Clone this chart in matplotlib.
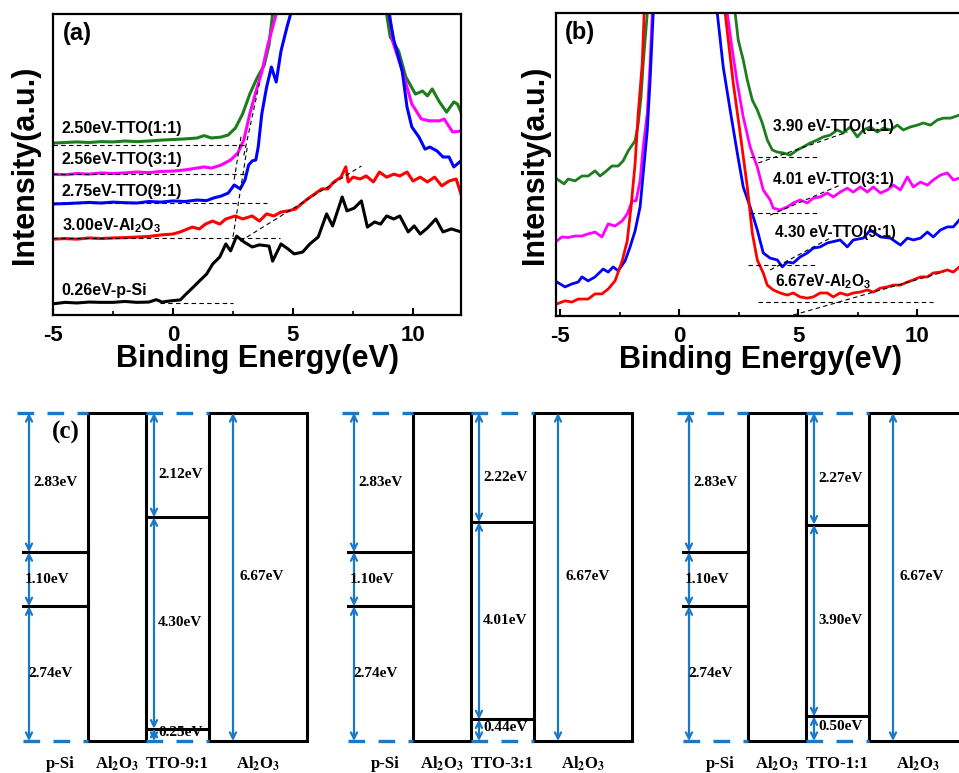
import numpy as np
import matplotlib
matplotlib.use("Agg")
import matplotlib.pyplot as plt
from matplotlib.patches import Rectangle

plt.rcParams['font.family'] = ['Liberation Sans', 'DejaVu Sans']
plt.rcParams['font.weight'] = 'bold'
plt.rcParams['axes.unicode_minus'] = False
plt.rcParams['mathtext.fontset'] = 'custom'
plt.rcParams['mathtext.rm'] = 'Liberation Sans:bold'
plt.rcParams['mathtext.bf'] = 'Liberation Sans:bold'
plt.rcParams['mathtext.it'] = 'Liberation Sans:italic:bold'

# ---------------- panel (a): valence band spectra ----------------
a_green_x = [-5.0, -4.5, -4.0, -3.5, -3.0, -2.5, -2.0, -1.5, -1.0, -0.5, 0.0, 0.5, 1.0, 1.3, 1.6, 2.0, 2.3, 2.6, 2.9,
             3.2, 3.5, 3.8, 4.0, 4.15, 6.5, 8.9, 9.05, 9.4, 9.7, 10.1, 10.4, 10.6, 10.8, 11.1, 11.4, 11.7, 11.85, 12.0]
a_green_y = [57.1, 57.3, 57.5, 57.3, 57.6, 57.5, 57.8, 57.6, 57.8, 58.1, 58.3, 58.5, 58.8, 59.6, 58.8, 59.1, 59.8, 62.1, 66.8,
             73.4, 78.7, 83.0, 89.7, 100, 160, 100, 92.4, 87.7, 79.1, 73.4, 74.4, 72.8, 75.1, 70.8, 67.4, 70.8, 70.1, 67.4]

a_magenta_x = [-5.0, -4.5, -4.0, -3.5, -3.0, -2.5, -2.0, -1.5, -1.0, -0.5, 0.0, 0.5, 0.9, 1.3, 1.6, 2.0, 2.4, 2.7, 2.95,
               3.2, 3.45, 3.7, 3.95, 4.3, 6.6, 9.03, 9.15, 9.5, 9.75, 9.95, 10.35, 10.7, 11.1, 11.3, 11.65, 12.0]
a_magenta_y = [46.8, 46.6, 47.0, 46.8, 47.2, 47.0, 47.2, 47.5, 47.3, 47.7, 47.8, 48.2, 48.7, 49.2, 48.8, 49.8, 51.5, 53.8, 58.1,
               66.8, 74.1, 80.7, 89.7, 100, 160, 100, 91.0, 82.4, 75.7, 70.1, 65.1, 64.5, 64.5, 65.1, 60.8, 61.1]

a_blue_x = [-5.0, -4.5, -4.0, -3.5, -3.0, -2.5, -2.0, -1.5, -1.0, -0.5, 0.0, 0.5, 1.0, 1.4, 1.7, 2.0, 2.3, 2.55, 2.8, 3.0,
            3.15, 3.3, 3.45, 3.55, 3.7, 3.9, 4.1, 4.3, 4.5, 4.75, 4.9, 7.0, 9.0, 9.2, 9.55, 9.75, 9.95, 10.25, 10.5,
            10.7, 11.0, 11.25, 11.5, 11.7, 12.0]
a_blue_y = [36.9, 37.0, 37.2, 37.4, 37.2, 37.5, 37.3, 37.2, 37.7, 37.5, 37.9, 37.7, 38.2, 38.0, 38.9, 39.5, 40.5, 43.2, 41.9, 44.9,
            49.8, 51.2, 51.5, 55.8, 66.8, 75.7, 82.4, 77.4, 87.7, 95.7, 100, 160, 100, 91.4, 81.1, 69.1, 62.5, 59.1, 55.1,
            55.8, 54.5, 52.5, 52.5, 49.2, 51.2]

a_red_x = [-5.0, -4.5, -4.0, -3.5, -3.0, -2.5, -2.0, -1.5, -1.0, -0.5, 0.0, 0.3, 0.8, 1.1, 1.35, 1.65, 1.95, 2.2, 2.6, 2.9,
           3.3, 3.6, 3.9, 4.2, 4.5, 4.8, 5.1, 5.35, 5.6, 5.9, 6.2, 6.45, 6.7, 7.0, 7.2, 7.3, 7.5, 7.8, 8.05, 8.35,
           8.6, 8.9, 9.2, 9.45, 9.75, 10.0, 10.3, 10.6, 10.9, 11.2, 11.5, 11.8, 12.0]
a_red_y = [25.2, 25.4, 25.2, 25.6, 25.4, 25.6, 25.7, 25.9, 26.1, 26.6, 26.9, 27.6, 29.2, 28.6, 30.2, 31.2, 30.2, 31.9, 32.9, 31.9,
           32.9, 31.2, 33.6, 32.9, 34.2, 34.6, 35.2, 36.9, 38.5, 40.2, 41.9, 41.9, 44.2, 45.8, 49.2, 44.2, 45.8, 45.2, 46.2, 44.2,
           47.5, 45.8, 46.8, 46.2, 47.5, 44.5, 45.8, 44.2, 45.8, 42.9, 44.5, 45.2, 40.2]

a_black_x = [-5.0, -4.5, -4.0, -3.5, -3.0, -2.5, -2.0, -1.5, -1.0, -0.7, -0.45, -0.1, 0.3, 0.55, 0.85, 1.1, 1.4, 1.65, 1.95, 2.2,
             2.4, 2.65, 2.95, 3.3, 3.6, 4.0, 4.15, 4.5, 4.8, 5.05, 5.4, 5.7, 6.05, 6.4, 6.65, 7.05, 7.25, 7.55, 7.85, 8.1,
             8.4, 8.65, 8.9, 9.2, 9.45, 9.8, 10.05, 10.3, 10.6, 10.95, 11.25, 11.6, 12.0]
a_black_y = [3.7, 4.2, 4.0, 4.3, 4.2, 4.2, 4.5, 4.2, 4.3, 5.1, 4.3, 4.7, 5.0, 7.0, 9.3, 11.3, 13.6, 16.9, 19.3, 23.6,
             21.3, 26.2, 24.3, 22.6, 23.3, 22.9, 17.9, 23.6, 21.9, 20.3, 20.9, 23.6, 25.9, 33.6, 29.6, 39.2, 34.6, 35.5, 37.9, 29.2,
             30.9, 30.2, 32.9, 31.9, 32.9, 27.6, 29.6, 26.9, 28.9, 31.9, 27.6, 28.6, 27.6]

a_labels = ['2.50eV-TTO(1:1)', '2.56eV-TTO(3:1)', '2.75eV-TTO(9:1)', '3.00eV-Al$_2$O$_3$', '0.26eV-p-Si']
a_label_y = [61.8, 51.5, 40.9, 29.6, 8.0]
a_base_y = [56.6, 46.8, 37.2, 25.6, 4.0]
a_base_x0 = [-5.0, -5.0, -5.0, -5.0, -0.55]
a_base_x1 = [3.05, 3.05, 3.9, 4.45, 2.5]
a_tan_x = [(2.5, 3.1), (2.55, 2.85), (2.95, 3.6), (2.8, 7.85)]
a_tan_y = [(26.0, 56.0), (45.0, 60.0), (53.0, 77.0), (24.5, 49.5)]

# ---------------- panel (b): secondary cut-off spectra ----------------
b_green_x = [-5.13, -4.83, -4.66, -4.37, -4.08, -3.82, -3.53, -3.32, -3.11, -2.82, -2.56, -2.35, -2.14, -1.85, -1.72, -1.6,
             -1.51, -1.34, 0.3, 2.35, 2.48, 2.69, 2.86, 3.07, 3.28, 3.49, 3.70, 3.91, 4.12, 4.37, 4.66, 4.96, 5.21, 5.50,
             5.80, 6.05, 6.34, 6.64, 6.89, 7.18, 7.48, 7.73, 8.03, 8.32, 8.57, 8.87, 9.16, 9.41, 9.71, 10.0, 10.25, 10.55,
             10.84, 11.09, 11.39, 11.76]
b_green_y = [45.2, 43.6, 45.2, 44.6, 46.2, 46.2, 47.9, 46.2, 47.5, 49.5, 49.5, 51.2, 54.5, 57.8, 63.4, 72.3,
             83.2, 99.7, 160, 100, 91.1, 84.5, 77.9, 71.3, 68.0, 63.7, 58.1, 54.8, 54.1, 53.8, 53.1, 54.8, 55.8, 57.1,
             58.1, 59.1, 59.7, 61.4, 60.4, 62.4, 59.1, 61.4, 62.4, 60.7, 62.0, 61.4, 63.0, 61.4, 62.4, 63.0, 63.7, 63.0,
             64.7, 65.3, 65.3, 66.3]

b_magenta_x = [-5.13, -4.92, -4.66, -4.37, -4.08, -3.82, -3.53, -3.24, -2.98, -2.69, -2.39, -2.18, -1.97, -1.81, -1.64,
               -1.51, -1.34, -1.22, -1.13, 0.4, 2.02, 2.23, 2.44, 2.69, 2.98, 3.28, 3.53, 3.82, 3.95, 4.24, 4.54, 4.79,
               5.08, 5.38, 5.63, 5.92, 6.22, 6.47, 6.76, 7.06, 7.31, 7.61, 7.90, 8.15, 8.45, 8.74, 8.99, 9.29, 9.58,
               9.83, 10.13, 10.42, 10.67, 10.97, 11.26, 11.51, 11.76]
b_magenta_y = [24.8, 26.1, 25.9, 26.4, 26.4, 27.1, 27.7, 26.1, 30.4, 29.7, 31.4, 33.7, 38.0, 38.0, 44.6,
               55.8, 66.7, 83.2, 99.7, 160, 100, 87.8, 76.9, 65.7, 55.8, 49.2, 41.6, 38.3, 35.6, 35.0, 36.0, 37.3,
               38.3, 37.3, 38.9, 39.3, 40.6, 39.3, 40.9, 42.2, 40.9, 42.6, 40.9, 42.6, 40.6, 41.6, 43.2, 41.6, 45.9,
               42.6, 44.2, 43.2, 44.9, 46.5, 47.2, 44.9, 45.5]

b_blue_x = [-5.13, -4.79, -4.5, -4.24, -4.08, -3.82, -3.53, -3.19, -2.98, -2.77, -2.56, -2.27, -2.06, -1.85, -1.64, -1.51,
            -1.34, -1.22, -1.09, 0.2, 1.6, 1.85, 2.14, 2.44, 2.69, 2.98, 3.28, 3.53, 3.82, 4.12, 4.33, 4.54, 4.79, 5.08,
            5.38, 5.63, 5.92, 6.22, 6.76, 7.06, 7.31, 7.73, 8.03, 8.45, 8.87, 9.29, 9.58, 9.83, 10.13, 10.42, 10.67,
            10.97, 11.26, 11.51, 11.76]
b_blue_y = [11.2, 9.6, 10.6, 11.2, 12.9, 11.6, 12.9, 15.5, 14.5, 16.2, 14.9, 18.2, 22.8, 28.1, 36.0, 46.9,
            61.1, 77.6, 99.7, 160, 100, 82.2, 68.0, 53.8, 42.6, 36.0, 28.4, 20.8, 19.1, 18.5, 16.2, 17.8, 17.5, 19.5,
            20.8, 22.4, 22.8, 24.1, 25.1, 22.8, 25.1, 25.7, 28.4, 26.1, 25.7, 23.4, 25.7, 25.1, 25.7, 27.7, 26.1,
            28.4, 29.4, 29.4, 31.7]

b_red_x = [-5.13, -4.79, -4.5, -4.24, -3.82, -3.53, -3.24, -2.98, -2.69, -2.39, -2.18, -2.02, -1.85, -1.72, -1.55, -1.47,
           0.3, 1.93, 2.27, 2.56, 2.86, 3.07, 3.28, 3.53, 3.70, 3.95, 4.24, 4.54, 4.79, 5.08, 5.38, 5.63, 5.92, 6.22,
           6.47, 6.76, 7.06, 7.31, 7.61, 7.90, 8.15, 8.45, 8.74, 8.99, 9.29, 9.58, 9.83, 10.13, 10.42, 10.67, 10.97,
           11.26, 11.51, 11.76]
b_red_y = [4.0, 5.0, 4.6, 5.6, 5.6, 7.3, 7.3, 8.9, 11.6, 18.2, 24.8, 36.0, 50.2, 66.7, 83.2, 99.7,
           160, 100, 76.9, 60.4, 42.6, 27.4, 18.5, 14.2, 10.2, 8.6, 7.6, 6.9, 7.6, 6.3, 5.9, 6.3, 7.6, 7.6,
           6.3, 7.6, 6.9, 7.6, 7.9, 8.6, 7.9, 9.2, 9.6, 10.2, 10.2, 11.2, 11.9, 12.9, 12.9, 14.2, 14.5,
           15.2, 14.5, 16.2]

b_labels = ['3.90 eV-TTO(1:1)', '4.01 eV-TTO(3:1)', '4.30 eV-TTO(9:1)', '6.67eV-Al$_2$O$_3$']
b_label_x = [3.95, 3.95, 4.03, 4.03]
b_label_y = [62.7, 45.2, 27.7, 11.2]
b_base_y = [52.5, 34.0, 16.8, 4.6]
b_base_x0 = [2.98, 2.98, 2.9, 3.32]
b_base_x1 = [5.92, 5.92, 5.84, 10.67]
b_tan_x = [(3.32, 7.06), (3.82, 6.76), (3.82, 6.34), (4.79, 11.09)]
b_tan_y = [(50.5, 60.7), (33.3, 43.2), (15.2, 25.7), (0.3, 14.5)]

# ---------------- panel (c): band alignment (eV) ----------------
al2o3_gap = 6.67
psi_cb_offset = 2.83
psi_gap = 1.10
psi_vb_offset = 2.74
tto_names = ['TTO-9:1', 'TTO-3:1', 'TTO-1:1']
tto_cb_offset = [2.12, 2.22, 2.27]
tto_gap = [4.30, 4.01, 3.90]
tto_vb_offset = [0.25, 0.44, 0.50]

GREEN = '#1b7d1b'
MAGENTA = '#ff00ff'
BLUE = '#0000ff'
RED = '#ff0000'
ARROW = '#1a78c8'

W, H = 959, 773
fig = plt.figure(figsize=(W / 100, H / 100), dpi=100)


def px_axes(l, t, r, b):
    return fig.add_axes([l / W, 1 - b / H, (r - l) / W, (b - t) / H])


def style_spectrum(ax, xlim, ypad):
    ax.set_xlim(*xlim)
    ax.set_ylim(0, 100)
    ax.set_yticks([])
    ax.set_xticks([-5, 0, 5, 10])
    ax.set_xticks([-2.5, 2.5, 7.5], minor=True)
    ax.tick_params(axis='x', which='major', direction='in', length=5, width=1.5, labelsize=16, pad=7)
    ax.tick_params(axis='x', which='minor', direction='in', length=3, width=1.2)
    for s in ax.spines.values():
        s.set_linewidth(1.6)
    ax.set_xlabel('Binding Energy(eV)', fontsize=22, fontweight='bold', labelpad=-1)
    ax.set_ylabel('Intensity(a.u.)', fontsize=22, fontweight='bold', labelpad=ypad)


dash = dict(color='black', lw=0.8, ls=(0, (4, 3)))

# panel (a)
axa = px_axes(53, 14, 461, 315)
for x, y, c in [(a_green_x, a_green_y, GREEN), (a_magenta_x, a_magenta_y, MAGENTA),
                (a_blue_x, a_blue_y, BLUE), (a_red_x, a_red_y, RED), (a_black_x, a_black_y, 'black')]:
    axa.plot(x, y, color=c, lw=2.2)
for y, x0, x1 in zip(a_base_y, a_base_x0, a_base_x1):
    axa.plot([x0, x1], [y, y], **dash)
for tx, ty in zip(a_tan_x, a_tan_y):
    axa.plot(tx, ty, **dash)
for lab, y in zip(a_labels, a_label_y):
    axa.text(-4.64, y, lab, fontsize=11.5, fontweight='bold', ha='left', va='center')
axa.text(0.025, 0.935, '(a)', transform=axa.transAxes, fontsize=17, fontweight='bold', va='center')
style_spectrum(axa, (-5, 12), 9)

# panel (b), right edge runs past the figure like the original crop
axb = px_axes(556, 13, 965, 316)
for x, y, c in [(b_green_x, b_green_y, GREEN), (b_magenta_x, b_magenta_y, MAGENTA),
                (b_blue_x, b_blue_y, BLUE), (b_red_x, b_red_y, RED)]:
    axb.plot(x, y, color=c, lw=2.0)
for y, x0, x1 in zip(b_base_y, b_base_x0, b_base_x1):
    axb.plot([x0, x1], [y, y], **dash)
for tx, ty in zip(b_tan_x, b_tan_y):
    axb.plot(tx, ty, **dash)
for lab, x, y in zip(b_labels, b_label_x, b_label_y):
    axb.text(x, y, lab, fontsize=11.2, fontweight='bold', ha='left', va='center')
axb.text(0.022, 0.935, '(b)', transform=axb.transAxes, fontsize=17, fontweight='bold', va='center')
style_spectrum(axb, (-5.17, 12), 4)

# panel (c)
axc = px_axes(0, 400, W, H)
px_per_ev = (741 - 413) / al2o3_gap
axc.set_xlim(0, W)
axc.set_ylim(-(773 - 741) / px_per_ev, al2o3_gap + (413 - 400) / px_per_ev)
axc.axis('off')

group_x = [17, 342, 677]
serif = ['Liberation Serif', 'DejaVu Serif']


def arrow(x, y0, y1):
    axc.annotate('', xy=(x, y1), xytext=(x, y0),
                 arrowprops=dict(arrowstyle='<->', color=ARROW, lw=1.6, shrinkA=0, shrinkB=0,
                                 mutation_scale=11))


def elabel(x, y, val):
    axc.text(x, y, f'{val:.2f}eV', family=serif, fontsize=11, fontweight='bold', ha='left', va='center')


for g, x0 in enumerate(group_x):
    top = al2o3_gap
    psi_vb = psi_vb_offset
    psi_cb = psi_vb + psi_gap
    tto_vb = tto_vb_offset[g]
    tto_cb = tto_vb + tto_gap[g]

    # blue dashed reference levels
    for y in (0, top):
        axc.plot([x0 + (6 if y == 0 else 0), x0 + 71], [y, y], color=ARROW, lw=2.4, ls=(0, (5, 4)))
        axc.plot([x0 + 129, x0 + 192], [y, y], color=ARROW, lw=2.4, ls=(0, (5, 4)))

    # Al2O3 blocks
    axc.add_patch(Rectangle((x0 + 71, 0), 58, top, fill=False, ec='black', lw=2.2))
    axc.add_patch(Rectangle((x0 + 192, 0), 98, top, fill=False, ec='black', lw=2.2))

    # band edges
    axc.plot([x0 + 6, x0 + 71], [psi_cb, psi_cb], color='black', lw=2.2)
    axc.plot([x0 + 6, x0 + 71], [psi_vb, psi_vb], color='black', lw=2.2)
    axc.plot([x0 + 129, x0 + 192], [tto_cb, tto_cb], color='black', lw=2.2)
    axc.plot([x0 + 129, x0 + 192], [tto_vb, tto_vb], color='black', lw=2.2)

    # arrows
    arrow(x0 + 12, psi_cb, top)
    arrow(x0 + 12, psi_vb, psi_cb)
    arrow(x0 + 12, 0, psi_vb)
    arrow(x0 + 137, tto_cb, top)
    arrow(x0 + 137, tto_vb, tto_cb)
    arrow(x0 + 137, 0, tto_vb)
    arrow(x0 + 216, 0, top)

    elabel(x0 + 16, (psi_cb + top) / 2, psi_cb_offset)
    elabel(x0 + 8, (psi_cb + psi_vb) / 2, psi_gap)
    elabel(x0 + 11, psi_vb / 2, psi_vb_offset)
    elabel(x0 + 141, (tto_cb + top) / 2 - 0.2, tto_cb_offset[g])
    elabel(x0 + 141, (tto_cb + tto_vb) / 2, tto_gap[g])
    elabel(x0 + 141, tto_vb / 2 + 0.05, tto_vb_offset[g])
    elabel(x0 + 223, top / 2, al2o3_gap)

    ylab = -0.46
    axc.text(x0 + 43, ylab, 'p-Si', family=serif, fontsize=12, fontweight='bold', ha='center', va='center')
    for xc in (x0 + 100, x0 + 241):
        axc.text(xc, ylab, r'Al$_\mathbf{2}$O$_\mathbf{3}$', family=serif, math_fontfamily='stix',
                 fontsize=12, fontweight='bold', ha='center', va='center')
    axc.text(x0 + 160, ylab, tto_names[g], family=serif, fontsize=12, fontweight='bold',
             ha='center', va='center')

axc.text(52, al2o3_gap - 0.4, '(c)', family=serif, fontsize=18, fontweight='bold', ha='left', va='center')

fig.savefig('out.png', dpi=100)
